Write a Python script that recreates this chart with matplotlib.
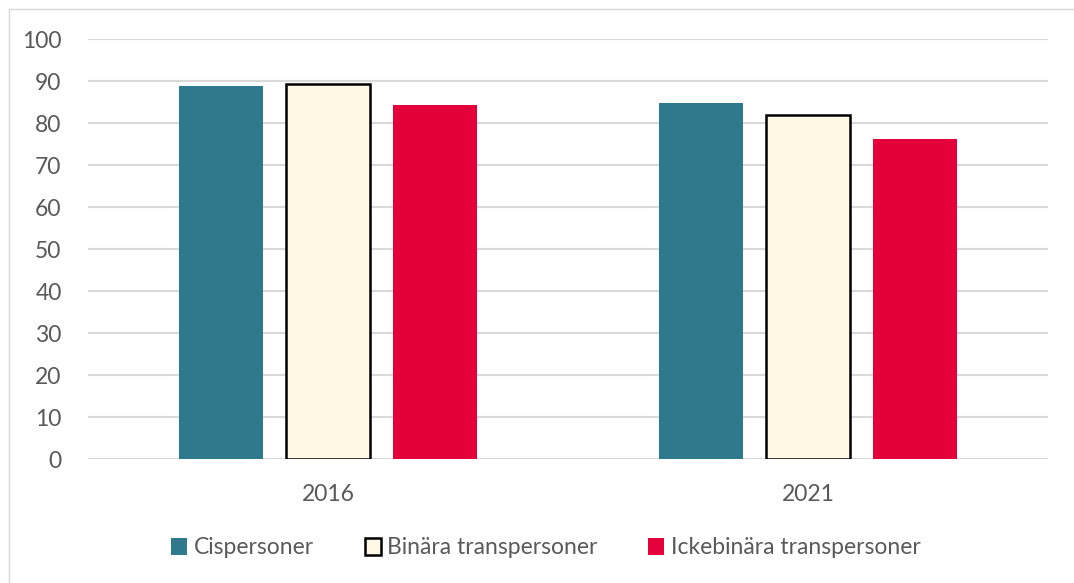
import matplotlib.pyplot as plt
import numpy as np
from matplotlib.lines import Line2D

plt.rcParams['font.family'] = ['Lato', 'DejaVu Sans']

years = ['2016', '2021']
series = ['Cispersoner', 'Binära transpersoner', 'Ickebinära transpersoner']
cis = [88.9, 84.7]
binara = [89.3, 81.9]
ickebinara = [84.2, 76.1]
yticks = [0, 10, 20, 30, 40, 50, 60, 70, 80, 90, 100]

colors = ['#2E7A8C', '#FFF8E5', '#E4003A']
edges = ['none', 'black', 'none']
text_color = '#595959'
grid_color = '#D9D9D9'

W, H = 1074, 583
fig = plt.figure(figsize=(W / 100, H / 100), dpi=100)
ax = fig.add_axes([88 / W, 1 - 459 / H, (1048 - 88) / W, (459 - 39) / H])

x = np.arange(len(years))
width = 0.175
offsets = [-0.222, 0, 0.222]
bars = []
for vals, off, c, e in zip([cis, binara, ickebinara], offsets, colors, edges):
    b = ax.bar(x + off, vals, width, color=c, edgecolor=e,
               linewidth=1.8 if e != 'none' else 0, zorder=3)
    bars.append(b)

ax.set_xlim(-0.5, 1.5)
ax.set_ylim(0, 100)
ax.set_yticks(yticks)
ax.set_xticks(x)
ax.set_xticklabels(years)
ax.yaxis.grid(True, color=grid_color, linewidth=1.5, zorder=0)
ax.axhline(0, color=grid_color, linewidth=1.5, zorder=2)
for s in ax.spines.values():
    s.set_visible(False)
ax.tick_params(axis='both', length=0, colors=text_color, labelsize=16.5)
ax.tick_params(axis='y', pad=19)
ax.tick_params(axis='x', pad=18)

leg = fig.legend([b[0] for b in bars], series, loc='center',
                 bbox_to_anchor=(546 / W, 1 - 548 / H), ncol=3, frameon=False,
                 fontsize=16.5, handlelength=0.7, handleheight=0.7,
                 handletextpad=0.3, columnspacing=2.2, labelcolor=text_color)

# outer chart border (left and top edges visible)
fig.add_artist(Line2D([8.5 / W, 8.5 / W], [0, 1 - 8.5 / H], transform=fig.transFigure,
                      color=grid_color, linewidth=1))
fig.add_artist(Line2D([8.5 / W, 1], [1 - 8.5 / H, 1 - 8.5 / H], transform=fig.transFigure,
                      color=grid_color, linewidth=1))

fig.savefig('out.png', dpi=100)
